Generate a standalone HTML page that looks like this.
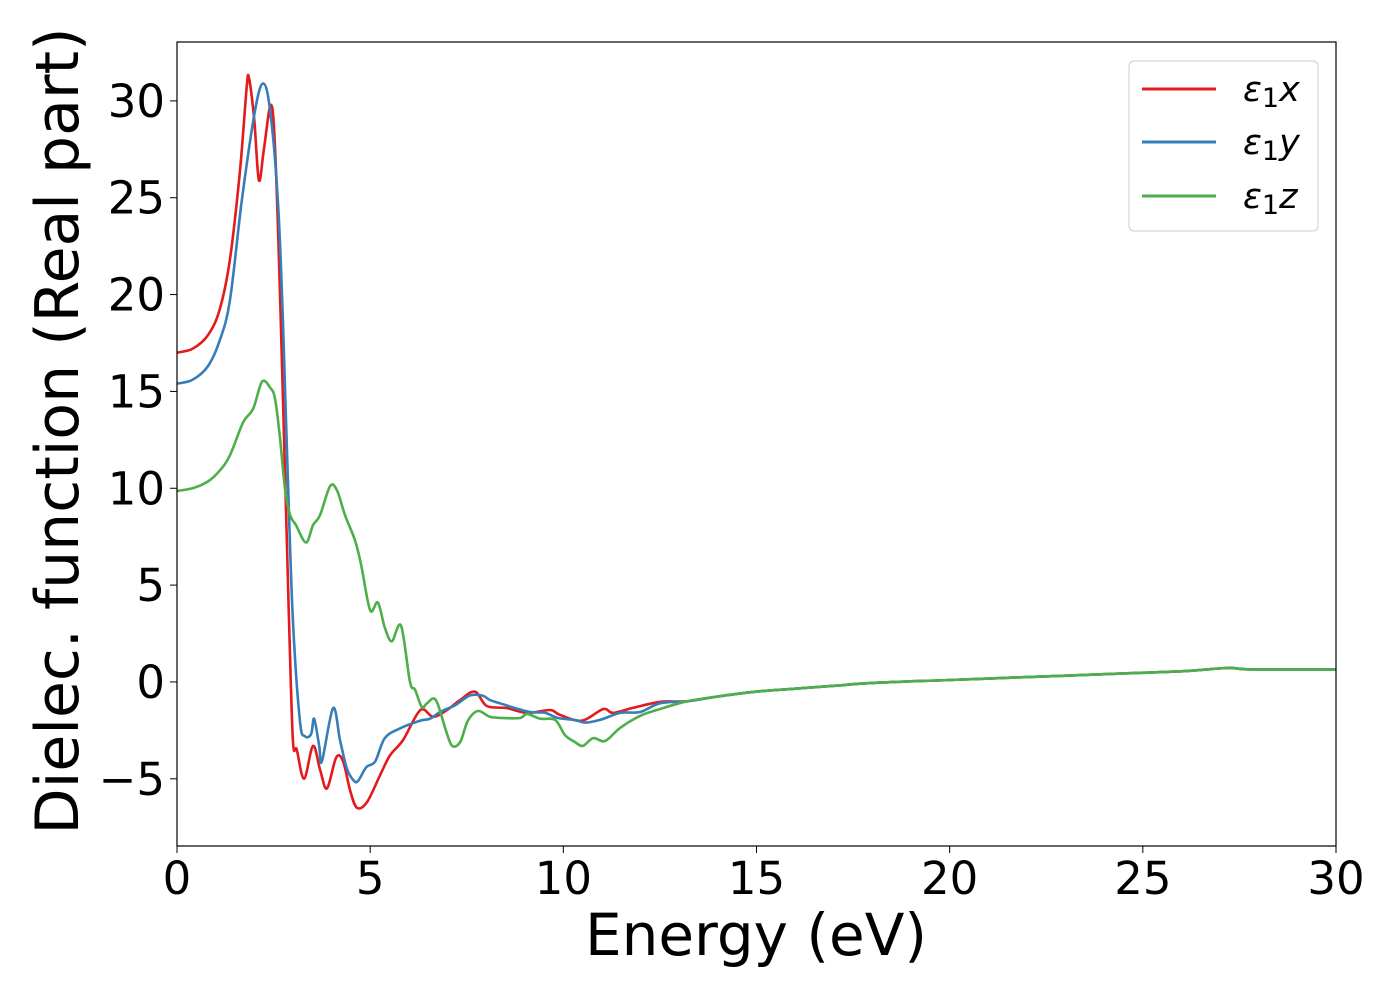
<!DOCTYPE html>
<html><head><meta charset="utf-8"><style>
body{margin:0;background:#fff}
svg{display:block;font-family:"DejaVu Sans","Liberation Sans",sans-serif}
</style></head><body>
<svg id="chart" width="1400" height="1000" viewBox="0 0 1400 1000">
<rect width="1400" height="1000" fill="#fff"/>
<g id="series"></g>
<rect x="177" y="42" width="1159" height="804" fill="none" stroke="#000" stroke-width="1.2"/>
<g id="ticks"></g>
<text x="756" y="955" font-size="58" text-anchor="middle">Energy (eV)</text>
<text transform="translate(78,431) rotate(-90)" font-size="60" text-anchor="middle">Dielec. function (Real part)</text>
<g>
<rect x="1129" y="61" width="189" height="170" rx="5" fill="#fff" stroke="#ccc" stroke-width="1"/>
<g><line x1="1142" y1="89" x2="1216" y2="89" stroke="#e41a1c" stroke-width="3"/><text x="1243" y="101" font-size="35" font-style="italic">ε<tspan font-style="normal" font-size="27" dy="6">1</tspan><tspan dy="-6">x</tspan></text></g>
<g><line x1="1142" y1="142" x2="1216" y2="142" stroke="#377eb8" stroke-width="3"/><text x="1243" y="154" font-size="35" font-style="italic">ε<tspan font-style="normal" font-size="27" dy="6">1</tspan><tspan dy="-6">y</tspan></text></g>
<g><line x1="1142" y1="196" x2="1216" y2="196" stroke="#4daf4a" stroke-width="3"/><text x="1243" y="208" font-size="35" font-style="italic">ε<tspan font-style="normal" font-size="27" dy="6">1</tspan><tspan dy="-6">z</tspan></text></g>
</g>
</svg>
<script>
const xTicks=[0,5,10,15,20,25,30];
const yTicks=[-5,0,5,10,15,20,25,30];
const tail=[[13.2,-1.0],[14,-0.75],[15,-0.5],[16,-0.35],[17,-0.2],[18,-0.05],[20,0.1],[22,0.25],[24,0.4],[26,0.55],[27.2,0.72],[27.8,0.65],[30,0.65]];
const epsX=[[0,17.0],[0.4,17.2],[0.8,17.9],[1.1,19.2],[1.37,21.8],[1.63,26.4],[1.8,30.6],[1.86,31.2],[2.0,29.0],[2.12,25.9],[2.25,27.5],[2.43,29.8],[2.54,27.5],[2.67,19.7],[2.8,10.4],[2.9,3.2],[3.0,-3.0],[3.1,-3.5],[3.29,-5.0],[3.52,-3.3],[3.7,-4.5],[3.88,-5.5],[4.12,-3.9],[4.3,-4.1],[4.48,-5.6],[4.66,-6.5],[4.92,-6.2],[5.26,-4.8],[5.51,-3.8],[5.85,-3.0],[6.3,-1.45],[6.63,-1.8],[6.99,-1.45],[7.33,-0.93],[7.71,-0.5],[8.02,-1.24],[8.54,-1.35],[9.06,-1.6],[9.66,-1.45],[9.91,-1.7],[10.48,-2.0],[11.03,-1.4],[11.29,-1.6],[11.8,-1.34],[12.5,-1.03]];
const epsY=[[0,15.4],[0.4,15.6],[0.8,16.3],[1.1,17.6],[1.37,19.7],[1.68,24.9],[2.02,29.5],[2.23,30.9],[2.41,29.5],[2.61,24.9],[2.74,18.7],[2.87,10.4],[3.0,3.2],[3.18,-2.0],[3.31,-2.8],[3.47,-2.7],[3.55,-1.9],[3.68,-3.3],[3.75,-4.1],[4.04,-1.35],[4.22,-3.0],[4.4,-4.5],[4.58,-5.1],[4.69,-5.1],[4.9,-4.4],[5.13,-4.1],[5.38,-2.9],[5.77,-2.4],[6.29,-2.0],[6.55,-1.9],[6.81,-1.55],[7.2,-1.2],[7.58,-0.7],[7.9,-0.7],[8.1,-0.93],[8.36,-1.1],[8.75,-1.35],[9.14,-1.55],[9.53,-1.6],[9.86,-1.86],[10.3,-1.96],[10.56,-2.1],[10.95,-1.96],[11.47,-1.6],[11.99,-1.55],[12.5,-1.1]];
const epsZ=[[0,9.86],[0.4,10.0],[0.8,10.35],[1.1,10.9],[1.37,11.7],[1.71,13.4],[1.97,14.1],[2.2,15.5],[2.41,15.2],[2.54,14.6],[2.67,12.5],[2.8,9.9],[2.93,8.6],[3.08,8.1],[3.34,7.2],[3.52,8.1],[3.7,8.6],[3.96,10.1],[4.14,9.9],[4.35,8.6],[4.61,7.3],[4.77,6.0],[5.0,3.7],[5.2,4.1],[5.38,2.8],[5.56,2.1],[5.8,2.9],[6.03,0],[6.16,-0.4],[6.34,-1.3],[6.47,-1.1],[6.7,-0.93],[6.96,-2.5],[7.12,-3.3],[7.33,-3.1],[7.53,-2.0],[7.79,-1.5],[8.1,-1.8],[8.44,-1.86],[8.88,-1.86],[9.06,-1.65],[9.4,-1.9],[9.79,-1.96],[10.04,-2.74],[10.3,-3.1],[10.51,-3.3],[10.77,-2.9],[11.08,-3.05],[11.47,-2.37],[11.99,-1.75],[12.5,-1.4]];
const xMin=0,xMax=30,yMin=-8.47,yMax=33.04;
const X=v=>177+(v-xMin)/(xMax-xMin)*1159;
const Y=v=>42+(yMax-v)/(yMax-yMin)*804;
const NS='http://www.w3.org/2000/svg';
function path(pts){
  const p=pts.map(d=>[X(d[0]),Y(d[1])]);
  let s='M'+p[0][0].toFixed(1)+','+p[0][1].toFixed(1);
  for(let i=0;i<p.length-1;i++){
    const p0=p[Math.max(i-1,0)],p1=p[i],p2=p[i+1],p3=p[Math.min(i+2,p.length-1)];
    const c1=[p1[0]+(p2[0]-p0[0])/6,p1[1]+(p2[1]-p0[1])/6];
    const c2=[p2[0]-(p3[0]-p1[0])/6,p2[1]-(p3[1]-p1[1])/6];
    s+='C'+c1.map(v=>v.toFixed(1))+' '+c2.map(v=>v.toFixed(1))+' '+p2.map(v=>v.toFixed(1));
  }
  return s;
}
const g=document.getElementById('series');
[[epsX,'#e41a1c','series-eps1-x'],[epsY,'#377eb8','series-eps1-y'],[epsZ,'#4daf4a','series-eps1-z']].forEach(([d,c,n])=>{
  const el=document.createElementNS(NS,'path');
  el.setAttribute('d',path(d.concat(tail)));
  el.setAttribute('fill','none');el.setAttribute('stroke',c);el.setAttribute('stroke-width','2.6');
  
  
  g.appendChild(el);
});
const t=document.getElementById('ticks');
xTicks.forEach(v=>{
  const l=document.createElementNS(NS,'line');
  l.setAttribute('x1',X(v));l.setAttribute('x2',X(v));l.setAttribute('y1',846);l.setAttribute('y2',853);l.setAttribute('stroke','#000');
  
  
  t.appendChild(l);
  const tx=document.createElementNS(NS,'text');
  tx.setAttribute('x',X(v));tx.setAttribute('y',894);tx.setAttribute('font-size','45');tx.setAttribute('text-anchor','middle');
  tx.textContent=v;
  
  
  t.appendChild(tx);
});
yTicks.forEach(v=>{
  const l=document.createElementNS(NS,'line');
  l.setAttribute('x1',170);l.setAttribute('x2',177);l.setAttribute('y1',Y(v));l.setAttribute('y2',Y(v));l.setAttribute('stroke','#000');
  
  
  t.appendChild(l);
  const tx=document.createElementNS(NS,'text');
  tx.setAttribute('x',165);tx.setAttribute('y',Y(v)+16);tx.setAttribute('font-size','45');tx.setAttribute('text-anchor','end');
  tx.textContent=v<0?'\u2212'+(-v):v;
  
  
  t.appendChild(tx);
});
</script>
</body></html>
